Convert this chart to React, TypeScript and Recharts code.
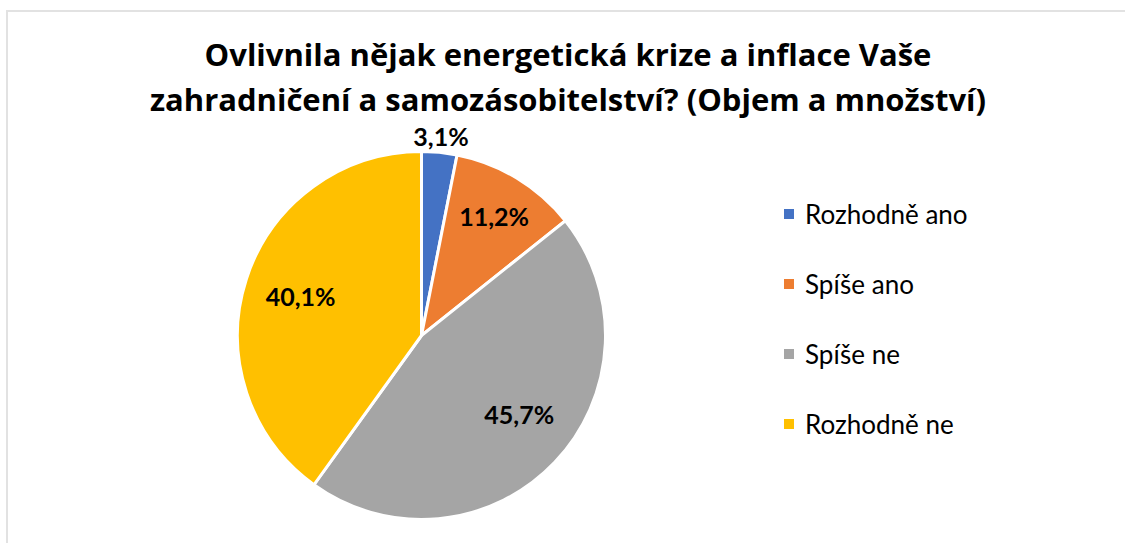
import { PieChart, Pie, Cell, Legend } from "recharts";

const categories = ["Rozhodně ano", "Spíše ano", "Spíše ne", "Rozhodně ne"];
const shares = [3.1, 11.2, 45.7, 40.1];
const colors = ["#4472C4", "#ED7D31", "#A5A5A5", "#FFC000"];

const titleLines = [
  "Ovlivnila nějak energetická krize a inflace Vaše",
  "zahradničení a samozásobitelství? (Objem a množství)",
];

// label placement ("best fit"): distance as fraction of radius, angle nudge in degrees
const LABEL_RADIUS = [1.09, 0.76, 0.68, 0.69];
const LABEL_NUDGE = [0, 0, 5, 0];

const FONT = "Lato, 'Open Sans', sans-serif";
const TITLE_FONT = "'Open Sans', Lato, sans-serif";

const renderLabel = (props: any) => {
  const { cx, cy, midAngle, outerRadius, value, index } = props;
  const r = outerRadius * LABEL_RADIUS[index];
  const rad = ((midAngle + LABEL_NUDGE[index]) * Math.PI) / 180;
  const x = cx + r * Math.cos(rad);
  const y = cy - r * Math.sin(rad);
  return (
    <text
      x={x}
      y={y}
      textAnchor="middle"
      dominantBaseline="central"
      fill="#000"
      fontFamily={FONT}
      fontWeight={700}
      fontSize={25}
    >
      {`${value.toFixed(1).replace(".", ",")}%`}
    </text>
  );
};

const renderLegend = (props: any) => {
  const payload = [...(props.payload || [])].sort(
    (a: any, b: any) => categories.indexOf(a.value) - categories.indexOf(b.value)
  );
  return (
    <div style={{ fontFamily: FONT, fontSize: 26, color: "#000" }}>
      {payload.map((item: any, i: number) => (
        <div
          key={i}
          style={{ display: "flex", alignItems: "center", height: 70 }}
        >
          <span
            style={{
              width: 10,
              height: 10,
              background: item.color,
              marginRight: 11,
              display: "inline-block",
            }}
          />
          <span>{item.value}</span>
        </div>
      ))}
    </div>
  );
};

export default function App() {
  const data = categories.map((name, i) => ({ name, value: shares[i] }));

  return (
    <div
      style={{
        position: "absolute",
        left: 0,
        top: 0,
        width: 1125,
        height: 543,
        background: "#fff",
        overflow: "hidden",
      }}
    >
      <div
        style={{
          position: "absolute",
          left: 6,
          top: 10,
          width: 1130,
          height: 540,
          borderTop: "2px solid #e2e2e2",
          borderLeft: "2px solid #e2e2e2",
        }}
      />
      <div
        style={{
          position: "absolute",
          left: 0,
          top: 37,
          width: 1136,
          textAlign: "center",
          fontFamily: TITLE_FONT,
          fontWeight: 700,
          fontSize: 31,
          lineHeight: "34px",
          color: "#000",
        }}
      >
        {titleLines.map((t, i) => (
          <div key={t} style={{ marginBottom: i === 0 ? 11 : 0 }}>
            {t}
          </div>
        ))}
      </div>
      <PieChart width={1125} height={543} margin={{ top: 0, right: 0, bottom: 0, left: 0 }}>
        <Pie
          data={data}
          dataKey="value"
          nameKey="name"
          cx={421.5}
          cy={335.5}
          outerRadius={184}
          startAngle={90}
          endAngle={-270}
          stroke="#fff"
          strokeWidth={3}
          label={renderLabel}
          labelLine={false}
          isAnimationActive={false}
        >
          {data.map((d, i) => (
            <Cell key={d.name} fill={colors[i]} />
          ))}
        </Pie>
        <Legend
          layout="vertical"
          align="right"
          verticalAlign="middle"
          content={renderLegend}
          wrapperStyle={{ left: 784, top: 179, width: 320 }}
        />
      </PieChart>
    </div>
  );
}
